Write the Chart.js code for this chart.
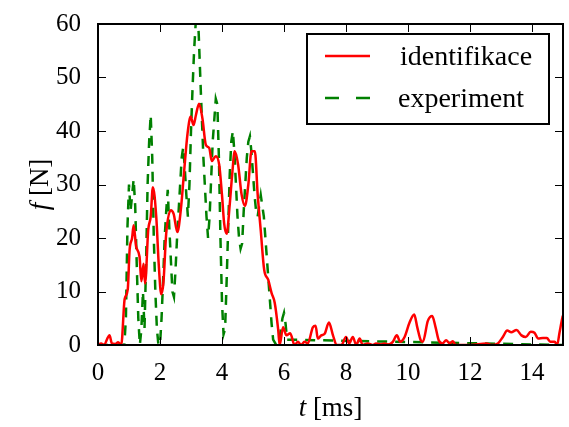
<!DOCTYPE html>
<html>
<head>
<meta charset="utf-8">
<script src="https://cdn.jsdelivr.net/npm/chart.js@4/dist/chart.umd.min.js"></script>
<style>
  html, body { margin: 0; padding: 0; background: #fff; }
  #wrap { width: 569px; height: 427px; }
</style>
</head>
<body>
<div id="wrap"><canvas id="forceChart" width="569" height="427"></canvas></div>
<script>
/* data: time [ms] and force [N] */
var identT = [0, 0.1, 0.2, 0.3, 0.37, 0.45, 0.55, 0.65, 0.75, 0.86, 0.96, 1.02, 1.1, 1.15, 1.23, 1.34, 1.4, 1.47, 1.52, 1.62, 1.7, 1.77, 1.88, 1.96, 2.04, 2.11, 2.2, 2.35, 2.44, 2.56, 2.67, 2.78, 2.89, 2.99, 3.08, 3.16, 3.26, 3.37, 3.48, 3.59, 3.67, 3.8, 3.91, 4.0, 4.07, 4.15, 4.25, 4.33, 4.41, 4.52, 4.63, 4.74, 4.85, 4.95, 5.06, 5.15, 5.25, 5.36, 5.49, 5.6, 5.7, 5.81, 5.86, 5.97, 6.08, 6.2, 6.34, 6.45, 6.55, 6.66, 6.77, 6.93, 7.02, 7.09, 7.2, 7.31, 7.45, 7.58, 7.7, 7.85, 8.0, 8.1, 8.22, 8.33, 8.44, 8.54, 8.7, 8.86, 8.97, 9.13, 9.24, 9.35, 9.51, 9.64, 9.75, 9.89, 10.05, 10.2, 10.3, 10.41, 10.48, 10.64, 10.78, 10.89, 10.99, 11.12, 11.23, 11.34, 11.45, 11.53, 12.0, 12.53, 12.69, 12.9, 13.06, 13.2, 13.33, 13.5, 13.66, 13.8, 13.96, 14.08, 14.2, 14.35, 14.48, 14.59, 14.73, 14.81, 14.89, 14.98, 15.0];
var identF = [0, 0.3, 0, 1.2, 1.8, 0.3, 0.2, 0.5, 0, 8.6, 10.4, 17.8, 20, 22.4, 18.4, 16.5, 11.9, 15.2, 11.5, 21.5, 24, 29.5, 23.9, 15, 9.5, 11.6, 20.8, 25.2, 24.5, 21.1, 25.2, 32.6, 39.6, 42.7, 41.1, 43, 45.1, 42.3, 37.4, 36.8, 34.4, 35.3, 33.7, 28, 22.7, 20.8, 26.3, 32, 36.2, 33.7, 28.2, 26, 30, 36.2, 36.2, 28.2, 21.4, 14.1, 12.2, 9.7, 7.9, 3, 0, 3.3, 1.8, 2.2, 0, 0.6, 0, 0.6, 0.3, 3.3, 3.6, 1.2, 1.8, 2.1, 4.2, 1.8, 0, 0, 1.5, 0.3, 1.5, 0, 1.2, 0, 0.3, 0, 0.3, 0.1, 0.3, 0.1, 0.6, 1.8, 0.6, 1.5, 4.2, 5.7, 3.3, 0.9, 0.6, 4.5, 5.4, 3.3, 0.9, 0.3, 0.9, 0.3, 0.7, 0, 0, 0.3, 0, 0.3, 1.5, 2.7, 2.4, 2.8, 1.8, 1.5, 2.5, 2.3, 1.2, 1.3, 1.3, 0.6, 0.6, 0, 2.4, 5.1, 5.5];

var expT = [0, 0.85, 0.9, 0.95, 1.0, 1.05, 1.1, 1.15, 1.2, 1.25, 1.3, 1.35, 1.4, 1.45, 1.5, 1.55, 1.6, 1.65, 1.7, 1.75, 1.8, 1.85, 1.9, 1.95, 2.0, 2.05, 2.1, 2.15, 2.2, 2.25, 2.3, 2.35, 2.4, 2.45, 2.5, 2.55, 2.6, 2.65, 2.7, 2.75, 2.8, 2.85, 2.9, 2.95, 3.0, 3.05, 3.1, 3.15, 3.2, 3.25, 3.3, 3.4, 3.5, 3.55, 3.6, 3.7, 3.8, 3.85, 3.9, 3.95, 4.0, 4.05, 4.1, 4.15, 4.2, 4.25, 4.3, 4.35, 4.4, 4.45, 4.5, 4.55, 4.6, 4.65, 4.7, 4.75, 4.8, 4.85, 4.9, 4.95, 5.0, 5.05, 5.1, 5.15, 5.2, 5.25, 5.3, 5.35, 5.4, 5.45, 5.5, 5.55, 5.6, 5.65, 5.75, 5.8, 5.85, 5.9, 5.95, 6.0, 6.05, 6.1, 15.0];
var expF = [0, 0, 5, 22, 30, 25, 28, 31, 26, 15, 5, 0, 3, 10, 3, 15, 30, 38, 43, 35, 20, 10, 3, 0, 0, 5, 12, 20, 25, 29, 22, 16, 10, 9, 14, 20, 25, 30, 35, 37, 33, 28, 24, 30, 40, 48, 55, 60, 64, 58, 50, 35, 24, 20, 24, 38, 46, 45, 35, 20, 8, 2, 3, 12, 22, 32, 38, 40, 36, 30, 24, 20, 18, 19, 25, 30, 35, 38, 39, 36, 32, 28, 25, 24, 26, 28, 26, 24, 20, 16, 12, 8, 4, 1, 0, 0, 1, 3, 5, 6, 4, 1, 0, 0];

var xTicks = [0, 2, 4, 6, 8, 10, 12, 14];
var yTicks = [0, 10, 20, 30, 40, 50, 60];

var serif = "'Liberation Serif', 'DejaVu Serif', serif";

function pairs(xs, ys) {
    return xs.map(function(x, i) { return { x: x, y: ys[i] }; });
}

/* frame, inward ticks on all sides, axis titles and boxed legend */
var framePlugin = {
    id: 'frame',
    afterDraw: function(chart) {
        var ctx = chart.ctx;
        var a = chart.chartArea;
        var xs = chart.scales.x, ys = chart.scales.y;
        var tl = 8;
        ctx.save();
        ctx.strokeStyle = '#000';
        ctx.lineWidth = 1;
        ctx.beginPath();
        xTicks.forEach(function(v) {
            var px = Math.round(xs.getPixelForValue(v)) + 0.5;
            ctx.moveTo(px, a.bottom); ctx.lineTo(px, a.bottom - tl);
            ctx.moveTo(px, a.top); ctx.lineTo(px, a.top + tl);
        });
        yTicks.forEach(function(v) {
            var py = Math.round(ys.getPixelForValue(v)) + 0.5;
            ctx.moveTo(a.left, py); ctx.lineTo(a.left + tl, py);
            ctx.moveTo(a.right, py); ctx.lineTo(a.right - tl, py);
        });
        ctx.stroke();

        ctx.lineWidth = 2;
        ctx.strokeRect(a.left, a.top, a.right - a.left, a.bottom - a.top);

        /* legend */
        ctx.fillStyle = '#fff';
        ctx.fillRect(307, 34, 242, 90);
        ctx.strokeRect(307, 34, 242, 90);
        ctx.lineWidth = 2.5;
        ctx.strokeStyle = '#ff0000';
        ctx.beginPath(); ctx.moveTo(325, 56); ctx.lineTo(370, 56); ctx.stroke();
        ctx.strokeStyle = '#008000';
        ctx.setLineDash([14, 17]);
        ctx.beginPath(); ctx.moveTo(325, 98); ctx.lineTo(370, 98); ctx.stroke();
        ctx.setLineDash([]);
        ctx.fillStyle = '#000';
        ctx.font = '28px ' + serif;
        ctx.textBaseline = 'alphabetic';
        ctx.textAlign = 'left';
        ctx.fillText('identifikace', 400, 65);
        ctx.fillText('experiment', 398, 107);

        /* axis titles: italic symbol + upright unit */
        var fs = '27px ';
        ctx.font = 'italic ' + fs + serif;
        var tW = ctx.measureText('t').width;
        ctx.font = fs + serif;
        var uW = ctx.measureText(' [ms]').width;
        var cx = (a.left + a.right) / 2;
        var sx = cx - (tW + uW) / 2;
        ctx.font = 'italic ' + fs + serif;
        ctx.fillText('t', sx, 416);
        ctx.font = fs + serif;
        ctx.fillText(' [ms]', sx + tW, 416);

        ctx.translate(48, (a.top + a.bottom) / 2);
        ctx.rotate(-Math.PI / 2);
        ctx.font = 'italic ' + fs + serif;
        var fW = ctx.measureText('f').width;
        ctx.font = fs + serif;
        var nW = ctx.measureText(' [N]').width;
        var s2 = -(fW + nW) / 2;
        ctx.font = 'italic ' + fs + serif;
        ctx.fillText('f', s2, 0);
        ctx.font = fs + serif;
        ctx.fillText(' [N]', s2 + fW, 0);
        ctx.restore();
    }
};

var ctx = document.getElementById('forceChart').getContext('2d');
new Chart(ctx, {
    type: 'line',
    data: {
        datasets: [{
            label: 'identifikace',
            data: pairs(identT, identF),
            borderColor: '#ff0000',
            borderWidth: 2.5,
            pointRadius: 0,
            cubicInterpolationMode: 'monotone',
            fill: false
        }, {
            label: 'experiment',
            data: pairs(expT, expF),
            borderColor: '#008000',
            borderWidth: 2.5,
            borderDash: [10, 8],
            pointRadius: 0,
            tension: 0,
            fill: false
        }]
    },
    options: {
        responsive: false,
        animation: false,
        layout: { padding: { top: 19, right: 6, left: 0, bottom: 0 } },
        plugins: {
            legend: { display: false },
            tooltip: { enabled: false }
        },
        scales: {
            x: {
                type: 'linear',
                min: 0,
                max: 15,
                grid: { display: false },
                border: { display: false },
                afterBuildTicks: function(scale) {
                    scale.ticks = xTicks.map(function(v) { return { value: v }; });
                },
                afterFit: function(scale) { scale.height = 82; },
                ticks: {
                    color: '#000',
                    padding: 5,
                    maxRotation: 0,
                    font: { family: serif, size: 25 }
                }
            },
            y: {
                min: 0,
                max: 60,
                grid: { display: false },
                border: { display: false },
                afterBuildTicks: function(scale) {
                    scale.ticks = yTicks.map(function(v) { return { value: v }; });
                },
                afterFit: function(scale) { scale.width = 98; },
                ticks: {
                    color: '#000',
                    padding: 9,
                    font: { family: serif, size: 25 }
                }
            }
        }
    },
    plugins: [framePlugin]
});
</script>
</body>
</html>
